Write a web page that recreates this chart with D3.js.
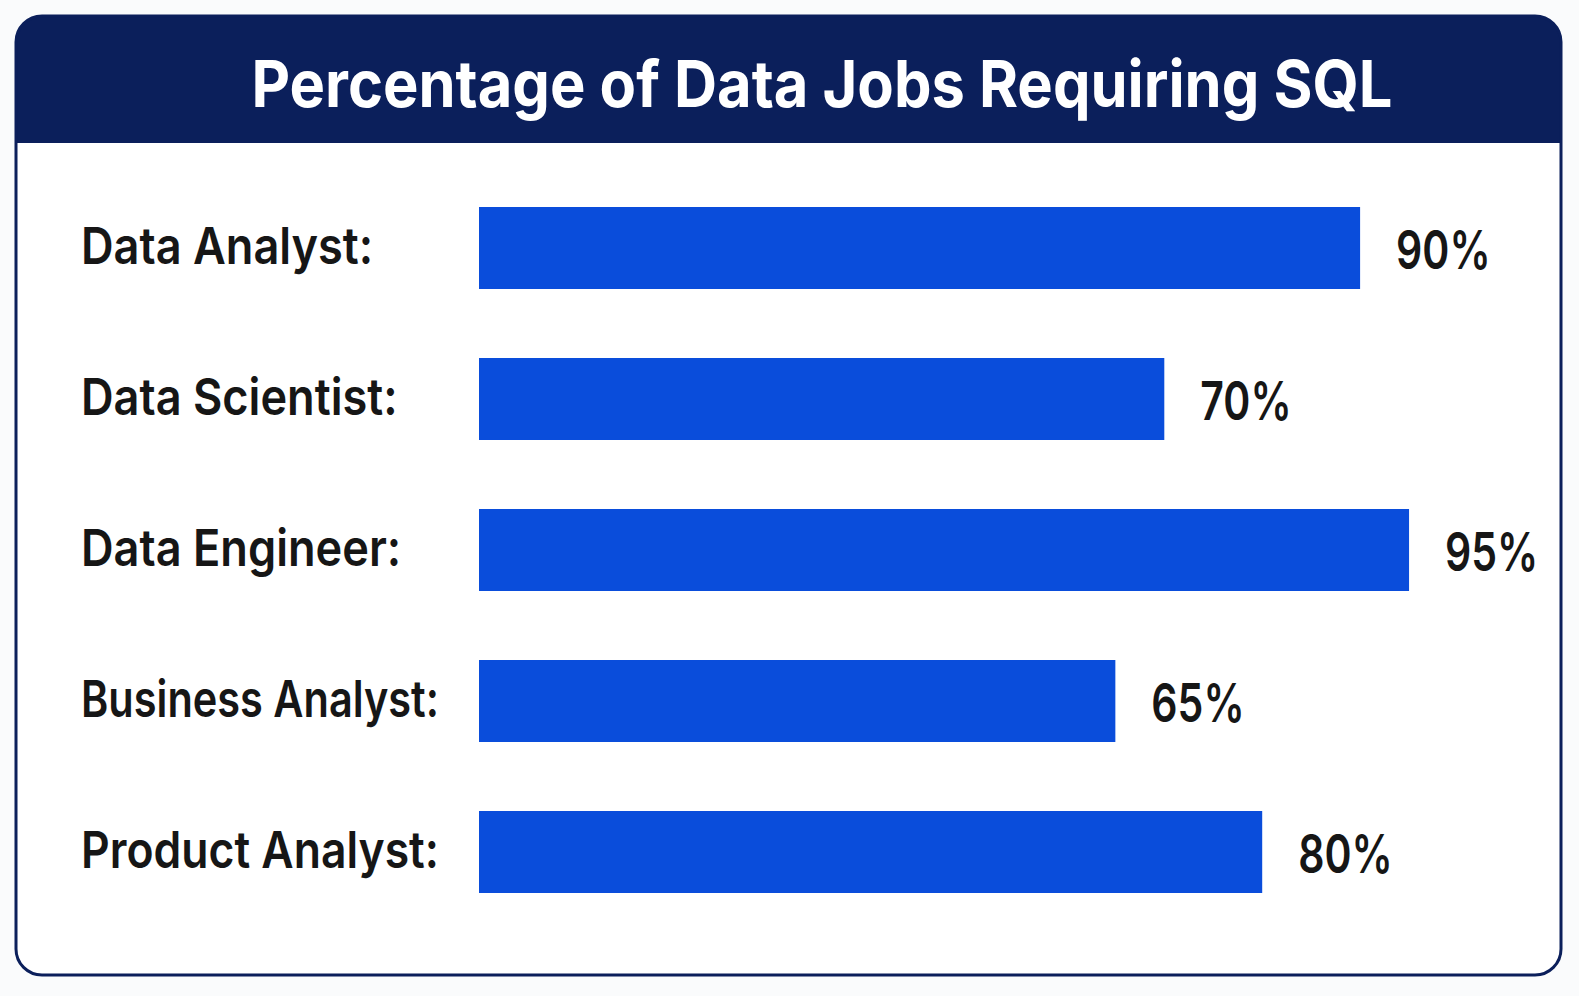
<!DOCTYPE html>
<html>
<head>
<meta charset="utf-8">
<script src="https://cdn.jsdelivr.net/npm/d3@7"></script>
<style>
  html, body { margin: 0; padding: 0; background: #fafbfc; }
  svg { display: block; }
</style>
</head>
<body>
<svg id="chart" width="1579" height="996"></svg>
<script>
// ---- data ----
const title = "Percentage of Data Jobs Requiring SQL";
const categories = ["Data Analyst:", "Data Scientist:", "Data Engineer:", "Business Analyst:", "Product Analyst:"];
const values = [90, 70, 95, 65, 80];
const valueLabels = ["90%", "70%", "95%", "65%", "80%"];

// ---- layout / style ----
const card = { x: 16, y: 16, w: 1545, h: 959, r: 26, header: 127 };
const navy = "#0b1f5b";
const barColor = "#0a4ddb";
const textColor = "#161616";
const fontFamily = "Inter, 'Noto Sans', Roboto, sans-serif";
const labelColumnWidth = 358;

const svg = d3.select("#chart");

// card background + header
const clipId = "cardClip";
svg.append("defs").append("clipPath").attr("id", clipId)
  .append("rect")
  .attr("x", card.x).attr("y", card.y)
  .attr("width", card.w).attr("height", card.h)
  .attr("rx", card.r).attr("ry", card.r);

const g = svg.append("g").attr("clip-path", `url(#${clipId})`);
g.append("rect")
  .attr("x", card.x).attr("y", card.y)
  .attr("width", card.w).attr("height", card.h)
  .attr("fill", "#ffffff");
g.append("rect")
  .attr("x", card.x).attr("y", card.y)
  .attr("width", card.w).attr("height", card.header)
  .attr("fill", navy);

svg.append("rect")
  .attr("x", card.x).attr("y", card.y)
  .attr("width", card.w).attr("height", card.h)
  .attr("rx", card.r).attr("ry", card.r)
  .attr("fill", "none")
  .attr("stroke", navy)
  .attr("stroke-width", 3);

// helper: horizontally condense text, optionally capped to a max width
function condense(sel, factor, maxWidth) {
  sel.each(function () {
    let w = this.getComputedTextLength() * factor;
    if (maxWidth && w > maxWidth) w = maxWidth;
    d3.select(this).attr("textLength", w).attr("lengthAdjust", "spacingAndGlyphs");
  });
}

// title
const titleText = svg.append("text")
  .attr("x", 822).attr("y", 107)
  .attr("text-anchor", "middle")
  .attr("fill", "#ffffff")
  .attr("font-family", fontFamily)
  .attr("font-weight", 700)
  .attr("font-size", 65)
  .text(title);
condense(titleText, 0.917);

// scales
const x = d3.scaleLinear().domain([0, 100]).range([479, 1458]);
const y = d3.scaleBand().domain(categories)
  .range([172.5, 927.5])
  .paddingInner(0.457)
  .paddingOuter(0.2285);

// bars
svg.append("g").selectAll("rect")
  .data(categories)
  .join("rect")
  .attr("x", x(0))
  .attr("y", d => y(d))
  .attr("width", (d, i) => x(values[i]) - x(0))
  .attr("height", y.bandwidth())
  .attr("fill", barColor);

// category labels
const cats = svg.append("g").selectAll("text")
  .data(categories)
  .join("text")
  .attr("x", 81)
  .attr("y", d => y(d) + y.bandwidth() / 2 + 16)
  .attr("fill", textColor)
  .attr("font-family", fontFamily)
  .attr("font-weight", 600)
  .attr("font-size", 51)
  .text(d => d);
condense(cats, 0.885, labelColumnWidth);

// value labels
const vals = svg.append("g").selectAll("text")
  .data(categories)
  .join("text")
  .attr("x", (d, i) => x(values[i]) + 36)
  .attr("y", d => y(d) + y.bandwidth() / 2 + 21)
  .attr("fill", textColor)
  .attr("font-family", fontFamily)
  .attr("font-weight", 600)
  .attr("font-size", 54)
  .text((d, i) => valueLabels[i]);
condense(vals, 0.76);
</script>
</body>
</html>
